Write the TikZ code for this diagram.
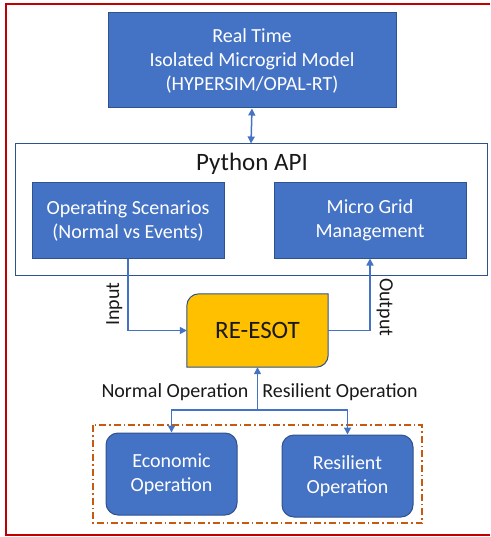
\documentclass[tikz,border=0pt]{standalone}
\usepackage{fontspec}
\setmainfont{Carlito}
\usetikzlibrary{arrows.meta}
\definecolor{boxblue}{HTML}{4472C4}
\definecolor{edgeblue}{HTML}{2F528F}
\definecolor{esotgold}{HTML}{FFC000}
\definecolor{framered}{HTML}{C00000}
\definecolor{rust}{HTML}{C55A11}
\begin{document}
\begin{tikzpicture}[x=1pt, y=-1pt,
    blockbox/.style={draw=edgeblue, fill=boxblue, text=white, line width=1pt,
      font=\fontsize{20}{24}\selectfont, align=center, inner sep=0pt},
    roundbox/.style={blockbox, rounded corners=12pt},
    link/.style={boxblue, line width=1.5pt, -{Triangle[length=7pt,width=7pt]}},
    tag/.style={font=\fontsize{20}{24}\selectfont, text=black!90, inner sep=1pt}]
  \useasboundingbox (0,0) rectangle (490,537);
  % outer frame
  \draw[framered, line width=2pt] (490,4) -- (6,4) -- (6,535) -- (490,535);
  % simulator
  \node[blockbox, minimum width=288pt, minimum height=95pt] (rtmodel) at (252,60.5)
    {Real Time\\Isolated Microgrid Model\\(HYPERSIM/OPAL-RT)};
  % python api
  \node[draw=edgeblue, line width=1pt, fill=white, minimum width=472pt, minimum height=131pt] (api) at (251,209.5) {};
  \node[font=\fontsize{25}{30}\selectfont, text=black!90] (apititle) at (252,164) {Python API};
  \node[blockbox, minimum width=192pt, minimum height=75pt] (ops) at (128,220.5)
    {Operating Scenarios\\(Normal vs Events)};
  \node[blockbox, minimum width=192pt, minimum height=75pt] (mgm) at (370,220.5)
    {Micro Grid\\Management};
  % optimiser
  \node[minimum width=141pt, minimum height=73pt, font=\fontsize{25}{30}\selectfont] (esot) at (257.5,330.5) {};
  \draw[draw=edgeblue, fill=esotgold, line width=1pt]
    (esot.west) [rounded corners=12pt] -- (esot.north west) -- (esot.north)
    [sharp corners] -- (esot.north east) -- (esot.east)
    [rounded corners=12pt] -- (esot.south east) -- (esot.south)
    [sharp corners] -- (esot.south west) -- cycle;
  \node[font=\fontsize{25}{30}\selectfont, text=black!90] (esottext) at (esot.center) {RE-ESOT};
  % operation modes
  \draw[rust, line width=1.5pt, dash pattern=on 7pt off 3pt on 1.5pt off 3pt] (93,425) rectangle (422,523);
  \node[roundbox, minimum width=131pt, minimum height=82pt] (econ) at (171.5,474) {Economic\\Operation};
  \node[roundbox, minimum width=131pt, minimum height=82pt] (res) at (347.5,476) {Resilient\\Operation};
  % connectors
  \draw[link, {Triangle[length=7pt,width=7pt]}-{Triangle[length=7pt,width=7pt]}] (rtmodel.south) -- (api.north);
  \draw[link] (ops.south) |- node[pos=0.317, rotate=90, anchor=south, tag, inner sep=5pt] (inlabel) {Input} (esot.west);
  \draw[link] (esot.east) -| node[pos=0.662, rotate=-90, anchor=south, tag, inner sep=6pt] (outlabel) {Output} (mgm.south);
  \coordinate (split) at (257.5,410);
  \draw[link] (split) -- (esot.south);
  \draw[link] (split) -| (econ.north);
  \draw[link] (split) -| (res.north);
  \node[tag] (normallabel) at (175,392) {Normal Operation};
  \node[tag] (resilientlabel) at (340,392) {Resilient Operation};
\end{tikzpicture}
\end{document}
